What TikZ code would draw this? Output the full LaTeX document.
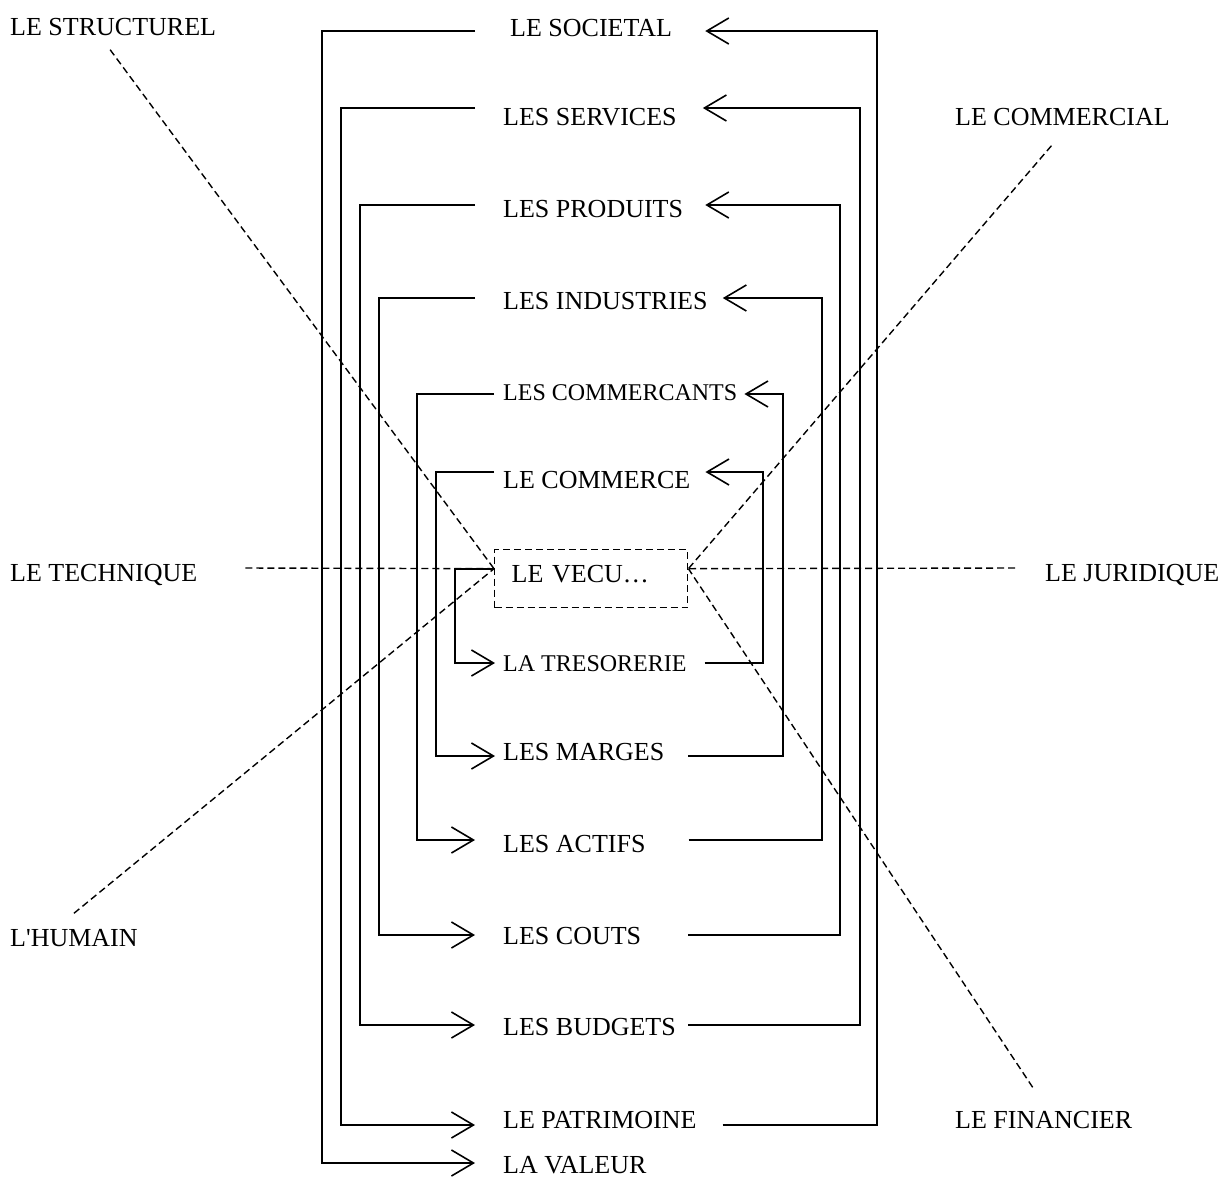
\documentclass[tikz,border=0pt]{standalone}
\usepackage{fontspec}
\setmainfont{Liberation Serif}
\usetikzlibrary{arrows.meta}

\tikzset{
  lbl/.style={anchor=west,inner sep=0pt,text height=17pt,text depth=0pt,font=\fontsize{26}{30}\selectfont},
  lblsmall/.style={lbl,font=\fontsize{24}{28}\selectfont},
  flow/.style={line width=1.8pt,-{Straight Barb[length=22pt,width=26pt,line width=1.6pt]}},
  guide/.style={line width=1.4pt,dash pattern=on 7pt off 4pt},
}

\begin{document}
\begin{tikzpicture}[x=1pt,y=-1pt]
\useasboundingbox (0,0) rectangle (1232,1179);

\node[lbl] (societal) at (510,28){LE SOCIETAL};
\node[lbl] (services) at (503,117){LES SERVICES};
\node[lbl] (produits) at (503,209){LES PRODUITS};
\node[lbl] (industries) at (503,301){LES INDUSTRIES};
\node[lblsmall] (commercants) at (503,392){LES COMMERCANTS};
\node[lbl] (commerce) at (503,480){LE COMMERCE};
\node[lbl,anchor=north west,draw,guide,inner xsep=17pt,inner ysep=0pt,text width=159pt,align=left,text depth=10pt,minimum height=58pt] (vecu) at (494,549){LE VECU…};
\node[lblsmall] (tresorerie) at (503,663){LA TRESORERIE};
\node[lbl] (marges) at (503,752){LES MARGES};
\node[lbl] (actifs) at (503,844){LES ACTIFS};
\node[lbl] (couts) at (503,936){LES COUTS};
\node[lbl] (budgets) at (503,1027){LES BUDGETS};
\node[lbl] (patrimoine) at (503,1120){LE PATRIMOINE};
\node[lbl] (valeur) at (503,1165){LA VALEUR};

\node[lbl] (structurel) at (10,27){LE STRUCTUREL};
\node[lbl] (commercial) at (955,117){LE COMMERCIAL};
\node[lbl] (technique) at (10,573){LE TECHNIQUE};
\node[lbl] (juridique) at (1045,573){LE JURIDIQUE};
\node[lbl] (humain) at (10,938){L\textquotesingle HUMAIN};
\node[lbl] (financier) at (955,1120){LE FINANCIER};

\coordinate (vl) at ([yshift=10pt]vecu.west);
\coordinate (vr) at ([yshift=10pt]vecu.east);

% spiral, left side
\draw[flow] (vl) -- ++(-39,0) |- ([xshift=-8pt]tresorerie.west);
\draw[flow] ([shift={(-9,-8)}]commerce.west) -- ++(-58,0) |- ([shift={(-8,4)}]marges.west);
\draw[flow] ([shift={(-9,2)}]commercants.west) -- ++(-77,0) |- ([shift={(-28,-4)}]actifs.west);
\draw[flow] ([shift={(-28,-3)}]industries.west) -- ++(-96,0) |- ([shift={(-28,-1)}]couts.west);
\draw[flow] ([shift={(-28,-4)}]produits.west) -- ++(-115,0) |- ([shift={(-28,-2)}]budgets.west);
\draw[flow] ([shift={(-28,-9)}]services.west) -- ++(-134,0) |- ([shift={(-28,5)}]patrimoine.west);
\draw[flow] ([shift={(-35,3)}]societal.west) -- ++(-153,0) |- ([shift={(-28,-2)}]valeur.west);

% spiral, right side
\draw[flow] ([shift={(18,0)}]tresorerie.east) -- ++(58,0) |- ([shift={(15,-8)}]commerce.east);
\draw[flow] ([shift={(24,4)}]marges.east) -- ++(94.5,0) |- ([shift={(7,2)}]commercants.east);
\draw[flow] ([shift={(43,-4)}]actifs.east) -- ++(133,0) |- ([shift={(15,-3)}]industries.east);
\draw[flow] ([shift={(47,-1)}]couts.east) -- ++(152,0) |- ([shift={(22,-4)}]produits.east);
\draw[flow] ([shift={(12,-2)}]budgets.east) -- ++(172,0) |- ([shift={(26,-9)}]services.east);
\draw[flow] ([shift={(26,5)}]patrimoine.east) -- ++(154,0) |- ([shift={(33,3)}]societal.east);

% dashed axes
\draw[guide] ([shift={(-3,14)}]structurel.south) -- (vl);
\draw[guide] ([yshift=16pt]humain.north) -- (vl);
\draw[guide] ([shift={(48,-5)}]technique.east) -- (vl);
\draw[guide] ([shift={(-11,20)}]commercial.south) -- (vr);
\draw[guide] ([shift={(-11,-24)}]financier.north) -- (vr);
\draw[guide] ([shift={(-30,-5)}]juridique.west) -- (vr);
\end{tikzpicture}
\end{document}
